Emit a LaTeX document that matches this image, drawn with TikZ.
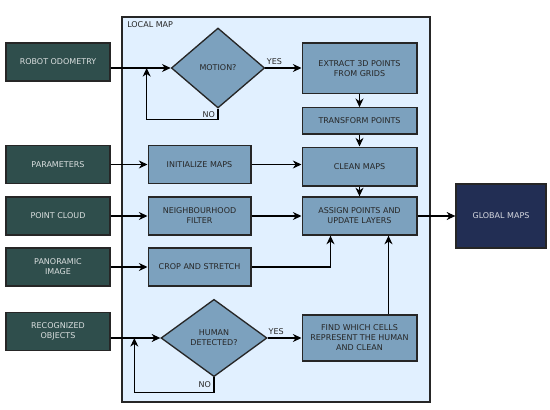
\documentclass[tikz,border=0pt]{standalone}
\usepackage{fontspec}
\setmainfont{DejaVu Sans}
\usetikzlibrary{arrows.meta,positioning,shapes.geometric,calc}
\usepackage{xcolor}

\definecolor{inbox}{RGB}{47,78,76}
\definecolor{procbox}{RGB}{124,161,190}
\definecolor{mapbg}{RGB}{225,240,255}
\definecolor{outbox}{RGB}{34,46,84}

\begin{document}
\begin{tikzpicture}[
    x=0.75pt, y=-0.75pt,
    >={Stealth[length=6.5pt,width=6pt]},
    input/.style={
      rectangle,
      draw=black!85,
      line width=1pt,
      fill=inbox,
      text=white!82!inbox,
      align=center,
      minimum width=78pt,
      minimum height=28.5pt,
      inner sep=2pt,
      font=\fontsize{6}{7.5}\selectfont
    },
    proc/.style={
      rectangle,
      draw=black!85,
      line width=1pt,
      fill=procbox,
      text=black!85,
      align=center,
      minimum width=86pt,
      minimum height=28.5pt,
      inner sep=2pt,
      font=\fontsize{6}{7.5}\selectfont
    },
    decision/.style={
      diamond,
      draw=black!85,
      line width=1pt,
      fill=procbox,
      text=black!85,
      align=center,
      inner sep=1pt,
      font=\fontsize{6}{7.5}\selectfont
    },
    output/.style={
      rectangle,
      draw=black!85,
      line width=1pt,
      fill=outbox,
      text=white!82!outbox,
      align=center,
      minimum width=67.5pt,
      minimum height=48pt,
      font=\fontsize{6}{7.5}\selectfont
    },
    localmap/.style={
      rectangle,
      draw=black!85,
      line width=1pt,
      fill=mapbg,
      minimum width=231pt,
      minimum height=288.75pt
    },
    arrow/.style={->, draw=black, line width=0.8pt},
    lbl/.style={font=\fontsize{6}{7.5}\selectfont, text=black!85, inner sep=2pt}
  ]

  \useasboundingbox (0,0) rectangle (550,410);

  % container
  \node[localmap] (lmap) at (276,209.5) {};
  \node[lbl, anchor=north west] at ($(lmap.north west)+(3,2)$) {LOCAL MAP};

  % inputs
  \node[input] (odom) at (58,62) {ROBOT ODOMETRY};
  \node[input] (par) at (58,164.5) {PARAMETERS};
  \node[input] (pc) at (58,216) {POINT CLOUD};
  \node[input] (pano) at (58,267) {PANORAMIC\\IMAGE};
  \node[input] (obj) at (58,331.5) {RECOGNIZED\\OBJECTS};

  % decisions
  \node[decision, minimum width=70pt, minimum height=60pt] (motion) at (218,68) {MOTION?};
  \node[decision, minimum width=79.5pt, minimum height=58pt] (human) at (214,338) {HUMAN\\DETECTED?};

  % left column
  \node[proc, minimum width=77pt] (init) at (199.5,164.5) {INITIALIZE MAPS};
  \node[proc, minimum width=77pt] (nbh) at (199.5,216) {NEIGHBOURHOOD\\FILTER};
  \node[proc, minimum width=77pt] (crop) at (199.5,267) {CROP AND STRETCH};

  % right column
  \node[proc, minimum height=38pt] (extract) at (359.5,68.5) {EXTRACT 3D POINTS\\FROM GRIDS};
  \node[proc, minimum height=19.5pt, below=9.5pt of extract] (transform) {TRANSFORM POINTS};
  \node[proc, minimum height=29pt, below=9pt of transform] (clean) {CLEAN MAPS};
  \node[proc] (assign) at (359.5,216) {ASSIGN POINTS AND\\UPDATE LAYERS};
  \node[proc, minimum height=34.5pt] (find) at (359.5,338) {FIND WHICH CELLS\\REPRESENT THE HUMAN\\AND CLEAN};

  % output
  \node[output] (glob) at (501,216) {GLOBAL MAPS};

  % odometry branch
  \draw[arrow] (odom.east |- motion.west) -- (motion.west);
  \draw[arrow] (motion.east) -- node[lbl, above, pos=0.25] {YES} (motion.east -| extract.west);
  \coordinate (mloop) at ($(motion.west)+(-24,0)$);
  \draw[arrow] (motion.south) -- node[lbl, left] {NO} ++(0,11) -| (mloop);

  % main chain
  \draw[arrow] (extract) -- (transform);
  \draw[arrow] (transform) -- (clean);
  \draw[arrow] (clean) -- (assign);
  \draw[arrow] (assign) -- (glob);

  % other inputs
  \draw[arrow] (par) -- (init);
  \draw[arrow] (pc) -- (nbh);
  \draw[arrow] (pano.east) -- (pano.east -| crop.west);
  \draw[arrow] (init) -- (init -| clean.west);
  \draw[arrow] (nbh) -- (assign);
  \coordinate (ain) at ($(assign.south west)!0.25!(assign.south east)$);
  \coordinate (aup) at ($(assign.south west)!0.75!(assign.south east)$);
  \draw[arrow] (crop.east) -| (ain);
  \draw[arrow] (find.north -| aup) -- (aup);

  % human branch
  \draw[arrow] (obj.east |- human.west) -- (human.west);
  \draw[arrow] (human.east) -- node[lbl, above, pos=0.25] {YES} (human.east -| find.west);
  \coordinate (hloop) at ($(human.west)+(-26,0)$);
  \draw[arrow] (human.south) -- node[lbl, left] {NO} ++(0,15) -| (hloop);

\end{tikzpicture}
\end{document}
